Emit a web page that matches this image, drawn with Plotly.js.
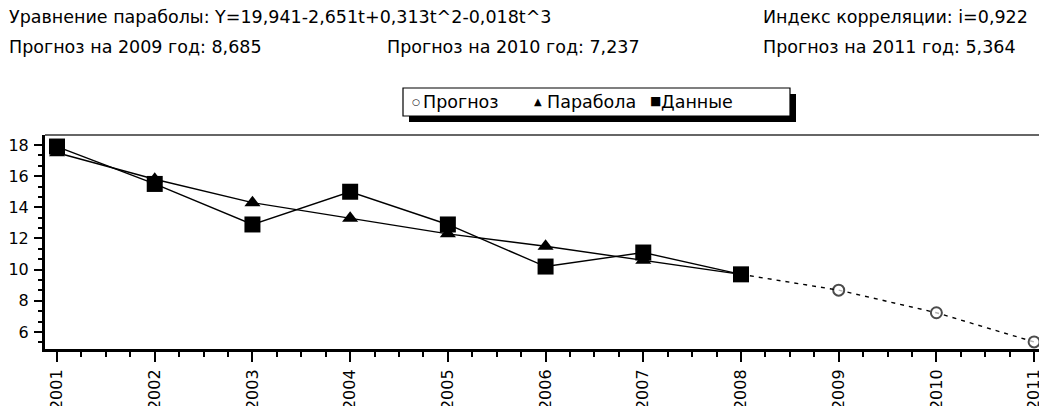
<!DOCTYPE html>
<html>
<head>
<meta charset="utf-8">
<script src="https://cdn.plot.ly/plotly-3.0.1.min.js"></script>
<style>html,body{margin:0;padding:0;background:#fff;}#chart{width:1039px;height:406px;}</style>
</head>
<body>
<div id="chart"></div>
<script>
// ---- data ----
const years = [2001, 2002, 2003, 2004, 2005, 2006, 2007, 2008];
const dataValues = [17.9, 15.5, 12.9, 15.0, 12.9, 10.2, 11.1, 9.7];
const parabolaValues = [17.5, 15.8, 14.3, 13.3, 12.3, 11.5, 10.6, 9.7];
const forecastYears = [2008, 2009, 2010, 2011];
const forecastValues = [9.7, 8.685, 7.237, 5.364];
const tickYears = [2001, 2002, 2003, 2004, 2005, 2006, 2007, 2008, 2009, 2010, 2011];
const yTicks = [6, 8, 10, 12, 14, 16, 18];
const seriesNames = ["Прогноз", "Парабола", "Данные"];
const headerTexts = [
  "Уравнение параболы: Y=19,941-2,651t+0,313t^2-0,018t^3",
  "Индекс корреляции: i=0,922",
  "Прогноз на 2009 год: 8,685",
  "Прогноз на 2010 год: 7,237",
  "Прогноз на 2011 год: 5,364"
];

// ---- layout helpers (pixel -> paper) ----
const W = 1039, H = 406;
const M = {l: 45, r: 0, t: 135, b: 57};
const PW = W - M.l - M.r, PH = H - M.t - M.b;
const px = x => (x - M.l) / PW;
const py = y => (H - M.b - y) / PH;
const FONT = "DejaVu Sans, Liberation Sans, sans-serif";

const traces = [
  {
    x: forecastYears, y: forecastValues, type: "scatter", mode: "lines+markers",
    name: seriesNames[0], showlegend: false, cliponaxis: false,
    line: {color: "#000", width: 1.4, dash: "4px,5px"},
    marker: {symbol: "circle", size: [0, 11, 11, 11], color: "#fff", line: {color: "#000", width: 2}}
  },
  {
    x: years, y: parabolaValues, type: "scatter", mode: "lines+markers",
    name: seriesNames[1], showlegend: false, cliponaxis: false,
    line: {color: "#000", width: 1.4},
    marker: {symbol: "triangle-up", size: 14, color: "#000"}
  },
  {
    x: years, y: dataValues, type: "scatter", mode: "lines+markers",
    name: seriesNames[2], showlegend: false, cliponaxis: false,
    line: {color: "#000", width: 1.4},
    marker: {symbol: "square", size: 16, color: "#000"}
  }
];

const txt = (s, x, y, size) => ({
  text: s, xref: "paper", yref: "paper", x: px(x), y: py(y),
  xanchor: "left", yanchor: "middle", showarrow: false,
  font: {family: FONT, size: size || 17.5, color: "#000"}
});

const annotations = [
  txt(headerTexts[0], 7, 17),
  txt(headerTexts[1], 761, 17),
  txt(headerTexts[2], 7, 47),
  txt(headerTexts[3], 385, 47),
  txt(headerTexts[4], 761, 47),
  // legend
  txt("○", 410, 102, 9),
  txt(seriesNames[0], 421, 102, 17.5),
  txt("▲", 532, 101, 10),
  txt(seriesNames[1], 545, 102, 17.5),
  txt("■", 648, 101, 12),
  txt(seriesNames[2], 659, 102, 17.5)
];

const shapes = [
  // legend shadow
  {type: "rect", xref: "paper", yref: "paper", x0: px(409), x1: px(796), y0: py(122), y1: py(94),
   fillcolor: "#000", line: {width: 0}, layer: "above"},
  // legend box
  {type: "rect", xref: "paper", yref: "paper", x0: px(403), x1: px(790), y0: py(116), y1: py(88),
   fillcolor: "#fff", line: {color: "#000", width: 1.2}, layer: "above"},
  // top border
  {type: "line", xref: "paper", yref: "paper", x0: 0, x1: 1, y0: 1, y1: 1,
   line: {color: "#333", width: 1.5}}
];

const layout = {
  width: W, height: H,
  margin: M,
  paper_bgcolor: "#fff", plot_bgcolor: "#fff",
  showlegend: false,
  font: {family: FONT, size: 16, color: "#000"},
  xaxis: {
    range: [2000.877, 2011.05], tickvals: tickYears, ticktext: tickYears.map(String),
    tickangle: -90, ticks: "outside", ticklen: 10, tickwidth: 2, tickcolor: "#000",
    showgrid: false, zeroline: false, showline: true, linecolor: "#000", linewidth: 3,
    tickfont: {family: FONT, size: 16, color: "#000"}, ticklabelstandoff: 1,
    ticklabeloverflow: "allow",
    minor: {dtick: 0.25, tick0: 2001, ticks: "outside", ticklen: 5, tickwidth: 2, tickcolor: "#000", showgrid: false}
  },
  yaxis: {
    range: [4.91, 18.64], tickvals: yTicks, ticktext: yTicks.map(String),
    ticks: "outside", ticklen: 8, tickwidth: 2, tickcolor: "#000",
    showgrid: false, zeroline: false, showline: true, linecolor: "#000", linewidth: 3,
    tickfont: {family: FONT, size: 16, color: "#000"}, ticklabelstandoff: 2,
    ticklabeloverflow: "allow",
    minor: {dtick: 2/3, tick0: 6, ticks: "outside", ticklen: 4, tickwidth: 2, tickcolor: "#000", showgrid: false}
  },
  annotations: annotations,
  shapes: shapes
};

Plotly.newPlot("chart", traces, layout, {displayModeBar: false, staticPlot: true});
</script>
</body>
</html>
